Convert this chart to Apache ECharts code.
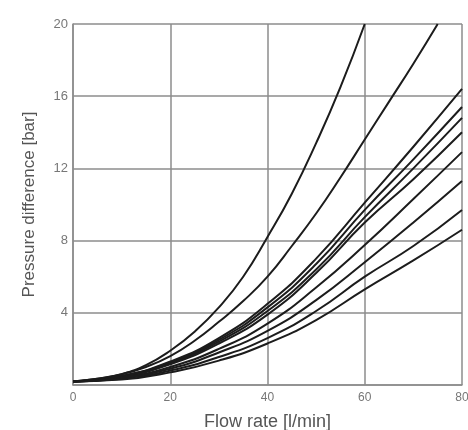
<!DOCTYPE html>
<html>
<head>
<meta charset="utf-8">
<script src="https://cdn.jsdelivr.net/npm/echarts@6/dist/echarts.min.js"></script>
<style>
  html, body { margin: 0; padding: 0; background: #fff; }
  #chart { width: 468px; height: 430px; }
</style>
</head>
<body>
<div id="chart"></div>
<script>
// flow rate [l/min] at which each curve is read
var flow = [0, 10, 20, 30, 40, 50, 60, 70, 80];
var flowCurve1 = [0, 5, 10, 15, 20, 25, 30, 35, 40, 45, 50, 55, 60];      // ends at the top (20 bar)
var flowCurve2 = [0, 5, 10, 15, 20, 25, 30, 35, 40, 45, 50, 55, 60, 65, 70, 75];

// pressure difference [bar]
var curve1 = [0.2, 0.35, 0.6, 1.1, 1.9, 2.95, 4.3, 6.0, 8.2, 10.6, 13.4, 16.5, 20];
var curve2 = [0.2, 0.35, 0.6, 1.0, 1.6, 2.45, 3.5, 4.65, 6.0, 7.7, 9.5, 11.5, 13.6, 15.7, 17.8, 20];
var curve3 = [0.2, 0.5, 1.3, 2.6, 4.5, 7.0, 10.1, 13.2, 16.4];
var curve4 = [0.2, 0.5, 1.25, 2.5, 4.3, 6.7, 9.7, 12.5, 15.4];
var curve5 = [0.2, 0.45, 1.2, 2.4, 4.1, 6.4, 9.3, 12.0, 14.8];
var curve6 = [0.2, 0.45, 1.15, 2.3, 3.9, 6.2, 9.0, 11.4, 14.0];
var curve7 = [0.2, 0.4, 1.0, 2.0, 3.4, 5.4, 7.75, 10.3, 12.9];
var curve8 = [0.2, 0.4, 0.9, 1.8, 3.0, 4.7, 6.8, 9.0, 11.3];
var curve9 = [0.2, 0.35, 0.8, 1.55, 2.6, 4.1, 6.0, 7.7, 9.7];
var curve10 = [0.2, 0.3, 0.7, 1.35, 2.3, 3.6, 5.3, 6.9, 8.6];

function pairs(xs, ys) {
    return ys.map(function (y, i) { return [xs[i], y]; });
}

var curves = [
    pairs(flowCurve1, curve1),
    pairs(flowCurve2, curve2),
    pairs(flow, curve3),
    pairs(flow, curve4),
    pairs(flow, curve5),
    pairs(flow, curve6),
    pairs(flow, curve7),
    pairs(flow, curve8),
    pairs(flow, curve9),
    pairs(flow, curve10)
];

var mychart = echarts.init(document.getElementById('chart'));

var gridLine = { show: true, lineStyle: { color: '#8c8c8c', width: 1.5 } };

var option = {
    animation: false,
    // v6: keep the grid where it is, names may sit near the edge
    grid: { left: 73, right: 6, top: 24, bottom: 45, outerBoundsMode: 'none' },
    xAxis: {
        type: 'value',
        min: 0, max: 80, interval: 20,
        name: 'Flow rate [l/min]',
        nameLocation: 'middle',
        nameGap: 28,
        nameTextStyle: { color: '#555', fontSize: 18, fontFamily: 'Liberation Sans' },
        axisLine: { show: true, lineStyle: { color: '#8c8c8c', width: 1.5 } },
        axisTick: { show: false },
        axisLabel: { color: '#777', fontSize: 12, fontFamily: 'Liberation Sans', margin: 7 },
        splitLine: gridLine
    },
    yAxis: {
        type: 'value',
        min: 0, max: 20, interval: 4,
        name: 'Pressure difference [bar]',
        nameLocation: 'middle',
        nameGap: 35,
        nameTextStyle: { color: '#555', fontSize: 17, fontFamily: 'Liberation Sans' },
        axisLine: { show: true, lineStyle: { color: '#8c8c8c', width: 1.5 } },
        axisTick: { show: false },
        axisLabel: {
            color: '#777', fontSize: 13, fontFamily: 'Liberation Sans', margin: 5,
            formatter: function (v) { return v === 0 ? '' : v; }
        },
        splitLine: gridLine
    },
    series: curves.map(function (d) {
        return {
            type: 'line',
            data: d,
            smooth: true,
            symbol: 'none',
            lineStyle: { color: '#1c1c1c', width: 2 }
        };
    })
};
mychart.setOption(option);
</script>
</body>
</html>
